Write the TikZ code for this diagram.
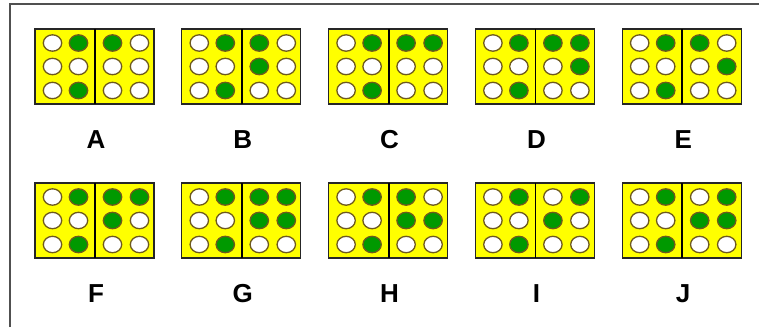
\documentclass[tikz,border=0pt]{standalone}
\usepackage{fontspec}
\setmainfont{Liberation Sans}
\definecolor{dotgreen}{RGB}{0,153,0}
\definecolor{cellyellow}{RGB}{255,255,0}
\definecolor{rimcol}{RGB}{110,90,30}
\definecolor{framegray}{RGB}{80,80,80}
\begin{document}
\begin{tikzpicture}[x=1pt,y=-1pt,
  cellbox/.style={fill=cellyellow,draw=black!85,line width=1.2pt},
  divline/.style={draw=black,line width=1.8pt},
  dotoff/.style={fill=white,draw=rimcol,line width=1.3pt},
  doton/.style={fill=dotgreen,draw=rimcol,line width=1.3pt},
  lettr/.style={font=\fontsize{26}{26}\selectfont\bfseries,anchor=base,inner sep=0pt},
  frameline/.style={draw=framegray,line width=1.5pt}]
\useasboundingbox (0,0) rectangle (759,327);
\draw[frameline] (10,327) -- (10,4) -- (759,4);
\foreach \L/\qa/\qb/\qc/\qd/\qe/\qf [count=\n from 0] in
  {A/1/0/0/0/0/0, B/1/1/0/0/0/0, C/1/0/0/1/0/0, D/1/0/0/1/1/0, E/1/0/0/0/1/0,
   F/1/1/0/1/0/0, G/1/1/0/1/1/0, H/1/1/0/0/1/0, I/0/1/0/1/0/0, J/0/1/0/1/1/0} {
  \pgfmathtruncatemacro\col{mod(\n,5)}
  \pgfmathtruncatemacro\row{div(\n,5)}
  \pgfmathsetmacro\cx{35+146.8*\col}
  \pgfmathsetmacro\cy{\row==0 ? 29 : 183}
  \begin{scope}[shift={(\cx,\cy)}]
    \draw[cellbox] (0,0) rectangle (119,75);
    \draw[divline] (60,0) -- (60,75);
    \foreach \x/\y/\v in {17.5/14/0, 17.5/37.5/0, 17.5/61.5/0,
                          43.5/14/1, 43.5/37.5/0, 43.5/61.5/1,
                          77.5/14/\qa, 77.5/37.5/\qb, 77.5/61.5/\qc,
                          104.5/14/\qd, 104.5/37.5/\qe, 104.5/61.5/\qf} {
      \ifnum\v=1
        \path[doton] (\x,\y) ellipse [x radius=9.2, y radius=8.2];
      \else
        \path[dotoff] (\x,\y) ellipse [x radius=9.2, y radius=8.2];
      \fi
    }
  \end{scope}
  \node[lettr] (lab\L) at (\cx+61,\cy+119) {\L};
}
\end{tikzpicture}
\end{document}
